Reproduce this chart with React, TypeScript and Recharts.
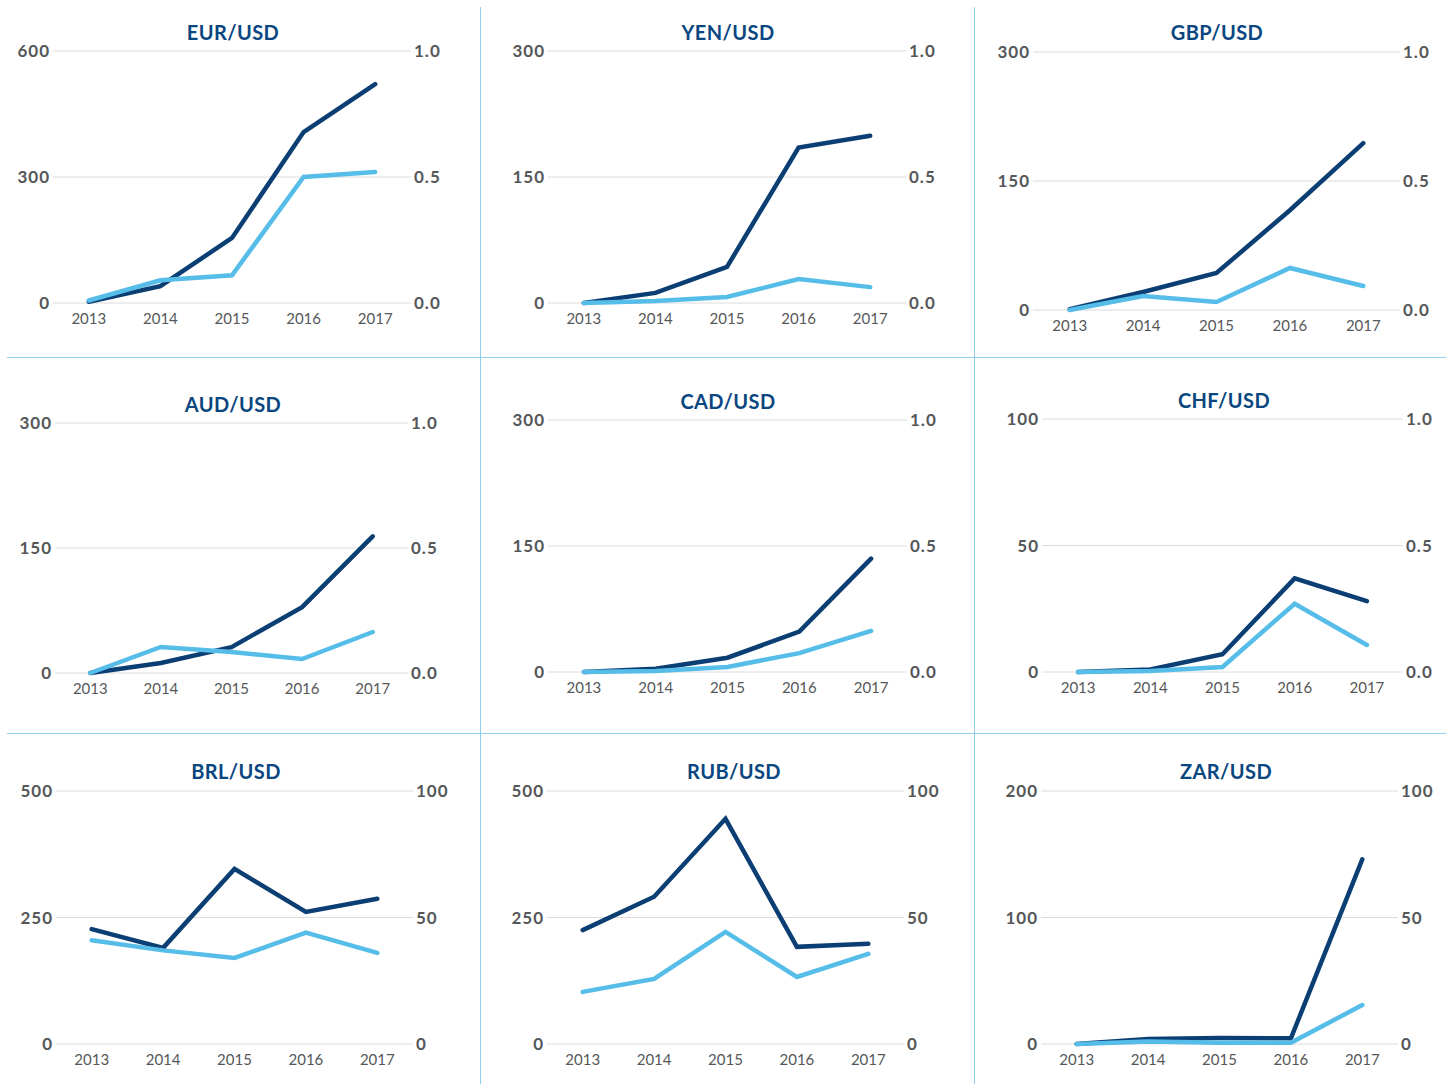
import React from 'react'
import { LineChart, Line, XAxis, YAxis, CartesianGrid } from 'recharts'

const years = ['2013', '2014', '2015', '2016', '2017']

const eurLeft = [3, 40, 155, 407, 521]
const eurRight = [0.01, 0.09, 0.11, 0.5, 0.52]
const yenLeft = [0, 12, 43, 185, 199]
const yenRight = [0, 0.008, 0.024, 0.095, 0.063]
const gbpLeft = [1, 21, 43, 116, 194]
const gbpRight = [0, 0.054, 0.031, 0.163, 0.093]
const audLeft = [0, 12, 31, 79, 164]
const audRight = [0, 0.104, 0.084, 0.056, 0.164]
const cadLeft = [0, 4, 17, 48, 135]
const cadRight = [0, 0.004, 0.02, 0.075, 0.163]
const chfLeft = [0, 1, 7, 37, 28]
const chfRight = [0, 0.004, 0.02, 0.27, 0.107]
const brlLeft = [227, 190, 346, 261, 287]
const brlRight = [41, 37, 34, 44, 36]
const rubLeft = [225, 291, 445, 192, 198]
const rubRight = [20.6, 25.7, 44.3, 26.5, 35.6]
const zarLeft = [0, 4, 4.7, 4.5, 146]
const zarRight = [0, 1, 0.5, 0.5, 15.4]

const DARK = '#0b3f73'
const LIGHT = '#56bde9'
const TITLE = '#0a467f'
const LABEL = '#555759'
const SEP = '#8fd0ef'
const FONT = 'Lato, "Open Sans", sans-serif'

// plot box in page pixels: x0, x1, yTop, yBottom; title centre
const panels = [
  { title: 'EUR/USD', left: eurLeft, right: eurRight, lMax: 600, rMax: 1, box: [53, 411, 51, 303], t: [233, 32] },
  { title: 'YEN/USD', left: yenLeft, right: yenRight, lMax: 300, rMax: 1, box: [548, 906, 51, 303], t: [728, 32] },
  { title: 'GBP/USD', left: gbpLeft, right: gbpRight, lMax: 300, rMax: 1, box: [1033, 1400, 52, 310], t: [1217, 32] },
  { title: 'AUD/USD', left: audLeft, right: audRight, lMax: 300, rMax: 1, box: [55, 408, 423, 673], t: [233, 404] },
  { title: 'CAD/USD', left: cadLeft, right: cadRight, lMax: 300, rMax: 1, box: [548, 907, 420, 672], t: [728, 401] },
  { title: 'CHF/USD', left: chfLeft, right: chfRight, lMax: 100, rMax: 1, box: [1042, 1403, 419, 672], t: [1224, 400] },
  { title: 'BRL/USD', left: brlLeft, right: brlRight, lMax: 500, rMax: 100, box: [56, 413, 791, 1044], t: [236, 771] },
  { title: 'RUB/USD', left: rubLeft, right: rubRight, lMax: 500, rMax: 100, box: [547, 904, 791, 1044], t: [734, 771] },
  { title: 'ZAR/USD', left: zarLeft, right: zarRight, lMax: 200, rMax: 100, box: [1041, 1398, 791, 1044], t: [1226, 771] },
]

const AXIS_W = 50
const TOP_PAD = 12
const X_H = 30

function Panel({ p }: any) {
  const [x0, x1, y0, y1] = p.box
  const data = years.map((y, i) => ({ year: y, left: p.left[i], right: p.right[i] }))
  const fmtRight = (v: number) => (p.rMax === 1 ? v.toFixed(1) : String(v))
  const yTick = { fill: LABEL, fontSize: 17, fontWeight: 700, fontFamily: FONT, letterSpacing: 1 }
  const pad = (x1 - x0) / 10

  return (
    <>
      <div
        style={{
          position: 'absolute',
          left: p.t[0] - 100,
          top: p.t[1] - 12,
          width: 200,
          lineHeight: '24px',
          textAlign: 'center',
          color: TITLE,
          fontFamily: FONT,
          fontWeight: 700,
          fontSize: 20,
          letterSpacing: 0.4,
        }}
      >
        {p.title}
      </div>
      <div style={{ position: 'absolute', left: x0 - AXIS_W, top: y0 - TOP_PAD }}>
        <LineChart
          width={x1 - x0 + AXIS_W * 2}
          height={y1 - y0 + TOP_PAD + X_H}
          data={data}
          margin={{ top: TOP_PAD, right: 0, bottom: 0, left: 0 }}
        >
          <CartesianGrid yAxisId="l" vertical={false} stroke="#dcdcdc" strokeWidth={1} />
          <XAxis
            dataKey="year"
            height={X_H}
            padding={{ left: pad, right: pad }}
            axisLine={false}
            tickLine={false}
            tickSize={0}
            tickMargin={10}
            interval={0}
            tick={{ fill: LABEL, fontSize: 15, fontFamily: FONT }}
          />
          <YAxis
            yAxisId="l"
            width={AXIS_W}
            domain={[0, p.lMax]}
            ticks={[0, p.lMax / 2, p.lMax]}
            axisLine={false}
            tickLine={false}
            tickSize={0}
            tickMargin={3}
            tick={yTick}
          />
          <YAxis
            yAxisId="r"
            orientation="right"
            width={AXIS_W}
            domain={[0, p.rMax]}
            ticks={[0, p.rMax / 2, p.rMax]}
            tickFormatter={fmtRight}
            axisLine={false}
            tickLine={false}
            tickSize={0}
            tickMargin={3}
            tick={yTick}
          />
          <Line
            yAxisId="l"
            dataKey="left"
            stroke={DARK}
            strokeWidth={4.5}
            strokeLinecap="round"
            dot={false}
            activeDot={false}
            isAnimationActive={false}
          />
          <Line
            yAxisId="r"
            dataKey="right"
            stroke={LIGHT}
            strokeWidth={4.5}
            strokeLinecap="round"
            dot={false}
            activeDot={false}
            isAnimationActive={false}
          />
        </LineChart>
      </div>
    </>
  )
}

export default function App() {
  const sep = { position: 'absolute' as const, background: SEP }
  return (
    <div style={{ position: 'absolute', left: 0, top: 0, width: 1453, height: 1084, background: '#fff' }}>
      <div style={{ ...sep, left: 480, top: 7, width: 1, height: 1077 }} />
      <div style={{ ...sep, left: 974, top: 7, width: 1, height: 1077 }} />
      <div style={{ ...sep, left: 7, top: 357, width: 1439, height: 1 }} />
      <div style={{ ...sep, left: 7, top: 733, width: 1439, height: 1 }} />
      {panels.map((p) => (
        <Panel key={p.title} p={p} />
      ))}
    </div>
  )
}
